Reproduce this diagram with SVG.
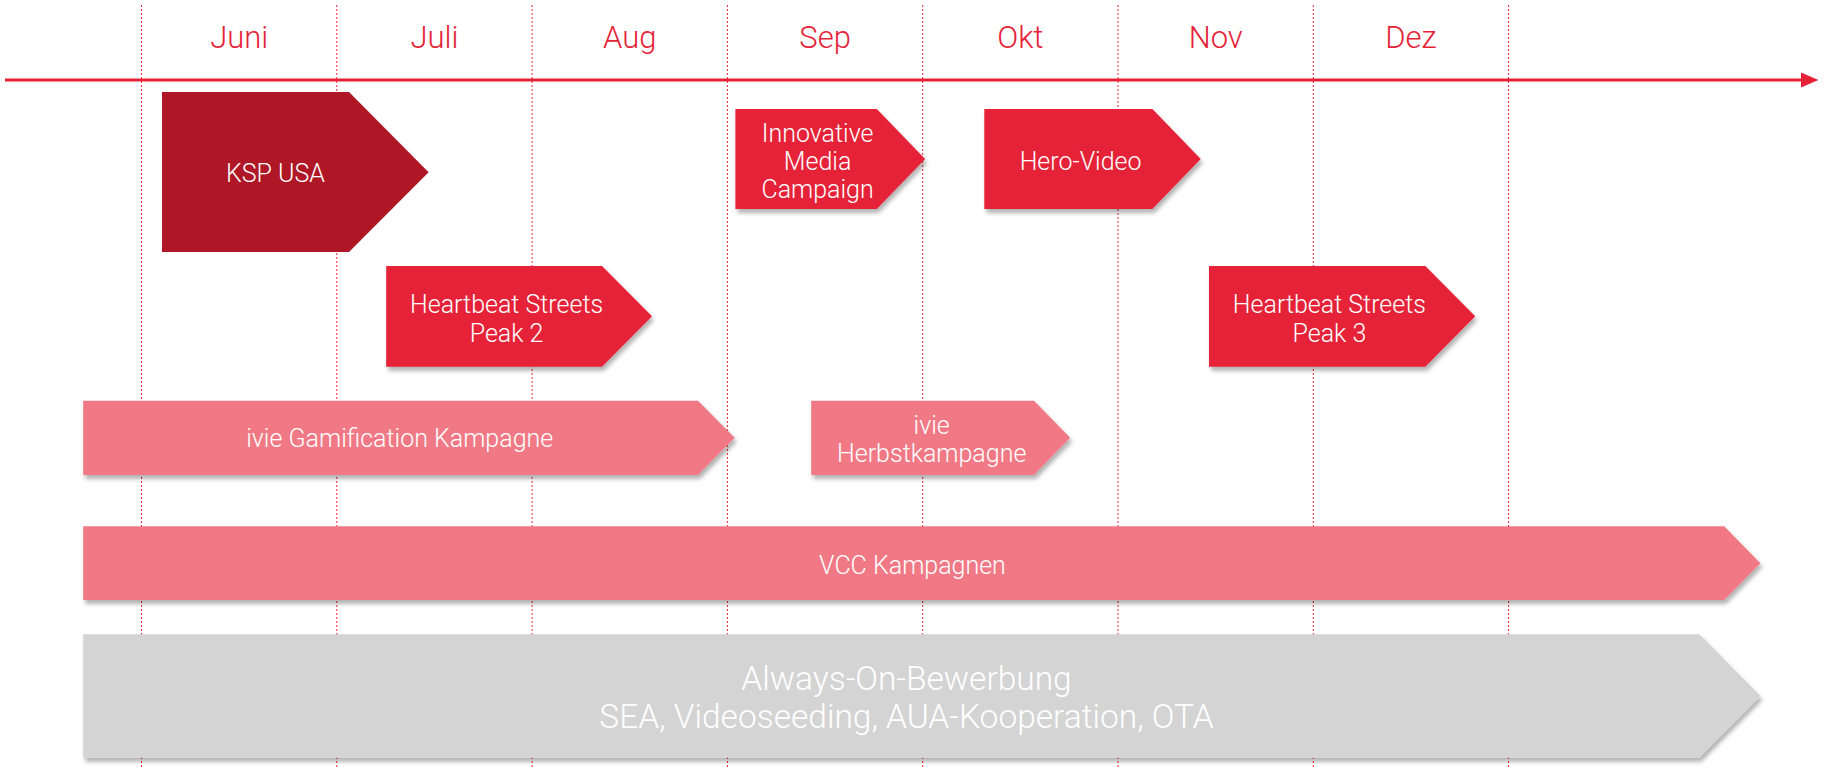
<svg xmlns="http://www.w3.org/2000/svg" width="1831" height="767" viewBox="0 0 1831 767">
<style>
.grid{stroke:#E52238;stroke-width:1;stroke-dasharray:2 2;fill:none}
.axis{stroke:#E52238;stroke-width:3;fill:none}
.month{font-family:Roboto,"Liberation Sans",sans-serif;font-weight:300;font-size:31px;fill:#E52238;text-anchor:middle}
.lbl{font-family:Roboto,"Liberation Sans",sans-serif;font-weight:300;font-size:25px;fill:#FFFFFF;text-anchor:middle}
.big{font-size:33.5px}
.dark{fill:#AF1626}
.red{fill:#E52238}
.pink{fill:#F07985}
.grey{fill:#D4D4D4}
</style>
<defs>
<filter id="sh" x="-5%" y="-10%" width="110%" height="130%">
<feDropShadow dx="2" dy="4" stdDeviation="2" flood-color="#000" flood-opacity="0.3"/>
</filter>
</defs>
<rect width="1831" height="767" fill="#FFFFFF"/>
<g id="grid">
<line class="grid" x1="141.5" y1="5" x2="141.5" y2="767"/>
<line class="grid" x1="336.8" y1="5" x2="336.8" y2="767"/>
<line class="grid" x1="532.1" y1="5" x2="532.1" y2="767"/>
<line class="grid" x1="727.4" y1="5" x2="727.4" y2="767"/>
<line class="grid" x1="922.7" y1="5" x2="922.7" y2="767"/>
<line class="grid" x1="1118" y1="5" x2="1118" y2="767"/>
<line class="grid" x1="1313.3" y1="5" x2="1313.3" y2="767"/>
<line class="grid" x1="1508.6" y1="5" x2="1508.6" y2="767"/>
</g>
<g id="connectors">
<line class="axis" x1="5" y1="80" x2="1802" y2="80"/>
<path d="M1801,72.5 L1818.5,80 L1801,87.5 Z" fill="#E52238"/>
</g>
<g id="months">
<text class="month" x="239.2" y="48.3">Juni</text>
<text class="month" x="434.5" y="48.3">Juli</text>
<text class="month" x="629.8" y="48.3">Aug</text>
<text class="month" x="825.1" y="48.3">Sep</text>
<text class="month" x="1020.4" y="48.3">Okt</text>
<text class="month" x="1215.7" y="48.3">Nov</text>
<text class="month" x="1411" y="48.3">Dez</text>
</g>
<g id="ksp-usa">
<polygon class="dark" points="162,92 349,92 428.6,172.3 349,252 162,252"/>
<text class="lbl" x="275.4" y="181.7">KSP USA</text>
</g>
<g id="innovative-media-campaign">
<polygon class="red" filter="url(#sh)" points="735.4,109 876.8,109 925.1,159 876.8,209 735.4,209"/>
<text class="lbl" x="817.6" y="141.7">Innovative</text>
<text class="lbl" x="817.6" y="170">Media</text>
<text class="lbl" x="817.6" y="198">Campaign</text>
</g>
<g id="hero-video">
<polygon class="red" filter="url(#sh)" points="984.3,109 1152.4,109 1200.7,159 1152.4,209 984.3,209"/>
<text class="lbl" x="1080.6" y="170">Hero-Video</text>
</g>
<g id="heartbeat-peak-2">
<polygon class="red" filter="url(#sh)" points="386.2,266 602,266 652,316.3 602,366.7 386.2,366.7"/>
<text class="lbl" x="506.6" y="313.3">Heartbeat Streets</text>
<text class="lbl" x="506.6" y="341.7">Peak 2</text>
</g>
<g id="heartbeat-peak-3">
<polygon class="red" filter="url(#sh)" points="1209,266 1425.3,266 1475.2,316.3 1425.3,366.7 1209,366.7"/>
<text class="lbl" x="1329.4" y="313.3">Heartbeat Streets</text>
<text class="lbl" x="1329.4" y="341.7">Peak 3</text>
</g>
<g id="ivie-gamification">
<polygon class="pink" filter="url(#sh)" points="83.2,400.7 698,400.7 734.7,437.8 698,475 83.2,475"/>
<text class="lbl" x="399.7" y="447.3">ivie Gamification Kampagne</text>
</g>
<g id="ivie-herbst">
<polygon class="pink" filter="url(#sh)" points="811.2,400.7 1034,400.7 1070.2,437.8 1034,475 811.2,475"/>
<text class="lbl" x="931.7" y="434.3">ivie</text>
<text class="lbl" x="931.7" y="462.3">Herbstkampagne</text>
</g>
<g id="vcc-kampagnen">
<polygon class="pink" filter="url(#sh)" points="83.2,526.3 1724.2,526.3 1760.4,563.2 1724.2,600 83.2,600"/>
<text class="lbl" x="912.5" y="574">VCC Kampagnen</text>
</g>
<g id="always-on">
<polygon class="grey" filter="url(#sh)" points="83.2,634.3 1699.3,634.3 1760.4,696 1699.3,757.7 83.2,757.7"/>
<text class="lbl big" x="906.5" y="690">Always-On-Bewerbung</text>
<text class="lbl big" x="906.5" y="728.3">SEA, Videoseeding, AUA-Kooperation, OTA</text>
</g>
</svg>
